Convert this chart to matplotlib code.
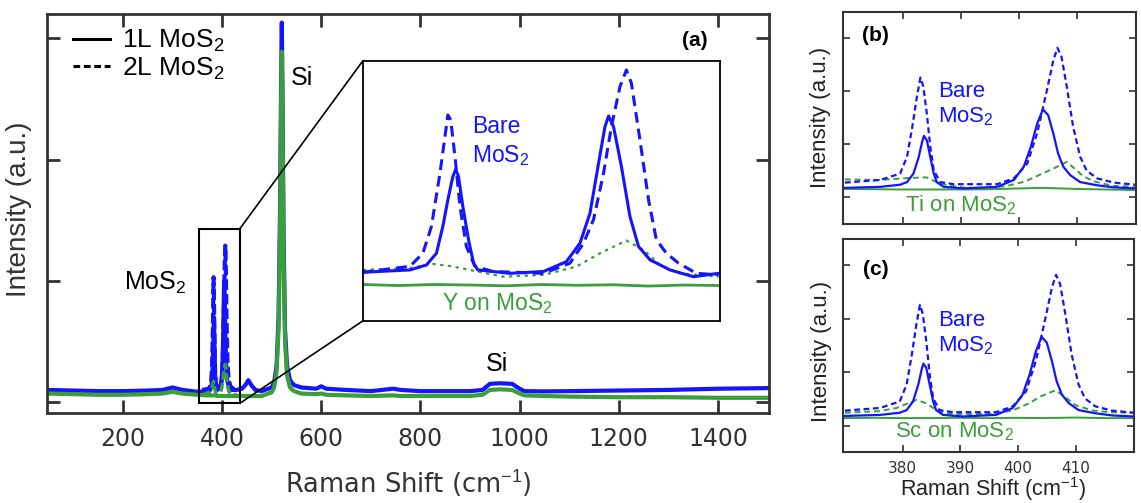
import numpy as np
import matplotlib
matplotlib.use("Agg")
import matplotlib.pyplot as plt
from matplotlib.lines import Line2D
from matplotlib.patches import Rectangle, ConnectionPatch

plt.rcParams['mathtext.fontset'] = 'custom'
plt.rcParams['mathtext.rm'] = 'Liberation Sans'
plt.rcParams['mathtext.default'] = 'rm'

BLUE = '#1414ff'
GREEN = '#3a9e3a'
DARK = '#333333'
ARIAL = 'Liberation Sans'

# ---- panel (a): full spectrum ----
main_x = [50, 100, 150, 200, 250, 280, 300, 320, 350, 370, 376, 379, 381, 382.5, 383.6,
          384.7, 385.8, 387, 390, 396, 399, 401, 402.5, 404.1, 405.5, 406.7, 408.5, 410.5,
          414, 420, 430, 440, 447, 453, 459, 467, 480, 500, 505, 510, 514, 517, 519, 520.5,
          522, 524, 527, 531, 537, 545, 560, 590, 600, 610, 650, 700, 745, 760, 800, 850,
          900, 925, 940, 960, 985, 1000, 1010, 1050, 1100, 1200, 1300, 1400, 1500]
main_bare_1l = [0.10, 0.095, 0.09, 0.09, 0.095, 0.10, 0.12, 0.10, 0.085, 0.09, 0.10, 0.14, 0.28,
                0.52, 0.70, 0.50, 0.25, 0.14, 0.10, 0.11, 0.17, 0.32, 0.58, 1.00, 0.82, 0.55,
                0.30, 0.18, 0.12, 0.10, 0.10, 0.11, 0.14, 0.18, 0.14, 0.10, 0.09, 0.12, 0.16,
                0.30, 0.70, 1.60, 2.60, 3.13, 2.50, 1.40, 0.60, 0.30, 0.18, 0.14, 0.12, 0.11,
                0.13, 0.11, 0.10, 0.09, 0.11, 0.10, 0.09, 0.09, 0.09, 0.10, 0.15, 0.155, 0.15,
                0.11, 0.09, 0.088, 0.09, 0.095, 0.10, 0.11, 0.115]
main_y_1l = [0.07, 0.065, 0.06, 0.06, 0.065, 0.07, 0.085, 0.07, 0.06, 0.055, 0.055, 0.055, 0.055,
             0.055, 0.055, 0.055, 0.055, 0.055, 0.05, 0.05, 0.05, 0.05, 0.05, 0.05, 0.05, 0.05,
             0.05, 0.05, 0.05, 0.05, 0.05, 0.05, 0.05, 0.05, 0.05, 0.05, 0.05, 0.08, 0.12,
             0.25, 0.60, 1.40, 2.40, 2.89, 2.30, 1.20, 0.50, 0.22, 0.12, 0.09, 0.07, 0.065,
             0.07, 0.06, 0.055, 0.05, 0.055, 0.05, 0.05, 0.05, 0.05, 0.06, 0.10, 0.105, 0.10,
             0.07, 0.055, 0.05, 0.045, 0.04, 0.04, 0.035, 0.035]

main2_x = [360, 374, 378, 380, 381.5, 383, 384.2, 385.3, 387, 390, 396, 399, 401.5, 403.5,
           405.5, 406.6, 407.6, 409.2, 411, 413.5, 417, 425, 430]
main_bare_2l = [0.10, 0.11, 0.16, 0.30, 0.60, 1.03, 0.70, 0.35, 0.16, 0.12, 0.12, 0.18, 0.35,
                0.70, 1.15, 1.29, 1.10, 0.65, 0.32, 0.18, 0.13, 0.10, 0.10]
main_y_2l = [0.06, 0.08, 0.10, 0.12, 0.15, 0.17, 0.15, 0.11, 0.08, 0.07, 0.08, 0.11, 0.17,
             0.25, 0.30, 0.31, 0.28, 0.20, 0.14, 0.09, 0.07, 0.06, 0.06]

zoom_box = (353, 436, -0.01, 1.43)

# ---- inset of (a): MoS2 region, Y on MoS2 ----
ins_x1 = [370.0, 376.6, 378.9, 380.3, 381.2, 381.9, 382.6, 383.0, 383.4, 384.0, 384.8, 385.5,
          386.1, 390.6, 395.3, 398.5, 400.4, 401.8, 403.0, 403.9, 404.4, 405.1, 406.2, 407.4,
          408.6, 410.2, 413.0, 416.3, 419.8]
ins_bare_1l = [0.187, 0.196, 0.215, 0.26, 0.363, 0.465, 0.555, 0.583, 0.555, 0.44, 0.312, 0.222,
               0.196, 0.183, 0.19, 0.228, 0.299, 0.414, 0.606, 0.747, 0.788, 0.747, 0.594,
               0.401, 0.286, 0.235, 0.196, 0.17, 0.183]
ins_x2 = [370.0, 376.6, 378.4, 379.6, 380.8, 381.5, 381.9, 382.3, 382.9, 383.6, 384.5, 385.7,
          388.2, 395.3, 399.0, 400.9, 402.3, 403.7, 404.8, 406.0, 406.9, 407.6, 408.8, 410.0,
          411.1, 412.5, 414.2, 416.7, 419.8]
ins_bare_2l = [0.187, 0.21, 0.26, 0.363, 0.568, 0.709, 0.792, 0.773, 0.632, 0.44, 0.286, 0.21,
               0.19, 0.183, 0.222, 0.299, 0.39, 0.568, 0.747, 0.901, 0.965, 0.914, 0.696,
               0.465, 0.312, 0.26, 0.222, 0.183, 0.177]
ins_xg = [370.0, 376.6, 379.8, 382.2, 385.0, 389.6, 395.3, 399.9, 403.2, 406.9, 409.3, 411.6,
          414.4, 419.8]
ins_y_2l = [0.196, 0.203, 0.219, 0.211, 0.196, 0.17, 0.177, 0.209, 0.26, 0.309, 0.273, 0.215,
            0.183, 0.17]
ins_xs = [370, 375, 380, 385, 390, 395, 400, 405, 410, 415, 420]
ins_y_1l = [0.14, 0.136, 0.14, 0.138, 0.135, 0.14, 0.137, 0.139, 0.134, 0.138, 0.136]

# ---- panels (b), (c): bare MoS2 (same in both) ----
bc_x1 = [370.0, 376.1, 379.5, 380.7, 381.8, 382.7, 383.3, 383.6, 384.1, 384.7, 385.3, 385.8,
         387.0, 390.4, 396.2, 399.1, 400.8, 402.0, 403.1, 404.1, 405.0, 405.9, 406.7, 407.6,
         408.8, 410.5, 413.4, 416.3, 420.0]
bare_1l = [0.18, 0.20, 0.24, 0.29, 0.45, 0.76, 1.05, 1.16, 1.08, 0.76, 0.45, 0.29, 0.20, 0.17,
           0.20, 0.33, 0.58, 0.95, 1.39, 1.66, 1.55, 1.20, 0.83, 0.58, 0.42, 0.29, 0.23, 0.19,
           0.17]
bc_x2 = [370.0, 376.1, 379.5, 380.7, 381.6, 382.4, 383.0, 383.5, 384.1, 384.7, 385.3, 386.4,
         388.7, 396.2, 399.1, 401.4, 403.1, 404.8, 405.9, 406.6, 407.3, 408.2, 409.3, 410.5,
         411.6, 413.4, 416.3, 420.0]
bare_2l = [0.28, 0.33, 0.45, 0.77, 1.33, 1.90, 2.26, 2.09, 1.58, 0.95, 0.51, 0.29, 0.25, 0.25,
           0.36, 0.64, 1.21, 2.03, 2.59, 2.82, 2.65, 2.09, 1.33, 0.77, 0.51, 0.36, 0.28, 0.24]

bc_xg = [370, 376, 380, 384, 386, 388, 391, 395, 398, 401, 404, 406, 408.2, 409.5, 411, 413,
         416, 420]
ti_2l = [0.34, 0.33, 0.36, 0.38, 0.28, 0.22, 0.18, 0.18, 0.22, 0.30, 0.45, 0.55, 0.67, 0.55,
         0.40, 0.30, 0.22, 0.20]
bc_xs = [370, 375, 380, 385, 390, 395, 400, 404, 410, 415, 420]
ti_1l = [0.16, 0.155, 0.15, 0.15, 0.15, 0.155, 0.17, 0.18, 0.16, 0.15, 0.14]

bc_xg2 = [370, 376, 379, 381, 382.4, 384, 386, 388, 391, 395, 399, 402, 404, 406.5, 408,
          410, 413, 416, 420]
sc_2l = [0.24, 0.27, 0.33, 0.42, 0.48, 0.42, 0.28, 0.22, 0.21, 0.22, 0.28, 0.42, 0.55, 0.66,
         0.55, 0.38, 0.28, 0.25, 0.24]
sc_1l = [0.14, 0.145, 0.14, 0.14, 0.145, 0.14, 0.145, 0.14, 0.15, 0.14, 0.14]

fig = plt.figure(figsize=(11.41, 5.03), dpi=100)

# ---------------- panel (a) ----------------
ax = fig.add_axes([0.0416, 0.179, 0.632, 0.793])
ax.plot(main_x, main_bare_1l, color=BLUE, lw=3)
ax.plot(main2_x, main_bare_2l, color=BLUE, lw=3, dashes=(2.5, 1))
ax.plot(main2_x, main_y_2l, color=GREEN, lw=2.5, dashes=(2.5, 1))
ax.plot(main_x, main_y_1l, color=GREEN, lw=3)
ax.set_xlim(48, 1502)
ax.set_ylim(-0.09, 3.2)
ax.set_xticks([200, 400, 600, 800, 1000, 1200, 1400])
ax.set_yticks([0, 1, 2, 3])
ax.set_yticklabels([])
ax.tick_params(direction='in', length=9.5, width=2, color=DARK, labelsize=17,
               labelcolor=DARK, top=True, right=True, pad=10)
for s in ax.spines.values():
    s.set_linewidth(2)
    s.set_color(DARK)
ax.set_xlabel('Raman Shift (cm$^{-1}$)', fontsize=18.5, color=DARK)
ax.xaxis.set_label_coords(0.5, -0.14)
ax.set_ylabel('Intensity (a.u.)', fontsize=20, color=DARK, family=ARIAL)
ax.yaxis.set_label_coords(-0.022, 0.51)

handles = [Line2D([], [], color='black', lw=2.2),
           Line2D([], [], color='black', lw=2.2, dashes=(2.2, 1.2))]
ax.legend(handles, ['1L MoS$_2$', '2L MoS$_2$'], loc='upper left',
          bbox_to_anchor=(0.035, 0.965), frameon=False, prop={'family': ARIAL, 'size': 19},
          handlelength=1.4, handletextpad=0.45, labelspacing=0.05, borderpad=0,
          borderaxespad=0)

ax.text(561, 2.67, 'Si', fontsize=18, family=ARIAL, ha='center', va='center')
ax.text(266, 0.98, 'MoS$_2$', fontsize=18, family=ARIAL, ha='center', va='center')
ax.text(954, 0.31, 'Si', fontsize=18, family=ARIAL, ha='center', va='center')
ax.text(1353, 2.98, '(a)', fontsize=15, family=ARIAL, weight='bold', ha='center', va='center')

x0, x1, y0, y1 = zoom_box
ax.add_patch(Rectangle((x0, y0), x1 - x0, y1 - y0, fill=False, lw=1.5, ec='black', zorder=5))

# inset
axi = fig.add_axes([0.318, 0.362, 0.313, 0.517])
axi.plot(ins_xs, ins_y_1l, color=GREEN, lw=2)
axi.plot(ins_xg, ins_y_2l, color=GREEN, lw=1.6, dashes=(1.5, 2))
axi.plot(ins_x1, ins_bare_1l, color=BLUE, lw=2.2)
axi.plot(ins_x2, ins_bare_2l, color=BLUE, lw=2.2, dashes=(3.5, 2))
axi.set_xlim(370, 420)
axi.set_ylim(0, 1)
axi.set_xticks([])
axi.set_yticks([])
for s in axi.spines.values():
    s.set_linewidth(1.3)
axi.text(0.305, 0.69, 'Bare\nMoS$_2$', transform=axi.transAxes, color=BLUE, fontsize=16.5,
         family=ARIAL, ha='left', va='center', linespacing=1.25)
axi.text(0.221, 0.065, 'Y on MoS$_2$', transform=axi.transAxes, color=GREEN, fontsize=16.5,
         family=ARIAL, ha='left', va='center')

for corner_main, corner_ins in [((x1, y1), (0, 1)), ((x1, y0), (0, 0))]:
    cp = ConnectionPatch(xyA=corner_main, coordsA=ax.transData, xyB=corner_ins,
                         coordsB=axi.transAxes, lw=1.2, color='black')
    fig.add_artist(cp)


# ---------------- panels (b), (c) ----------------
def side_panel(rect, green_x, green_2l, green_1l, label, metal, label_xy, metal_xy, bare_xy):
    a = fig.add_axes(rect)
    a.plot(bc_xs, green_1l, color=GREEN, lw=1.4)
    a.plot(green_x, green_2l, color=GREEN, lw=1.4, dashes=(3, 2))
    a.plot(bc_x1, bare_1l, color=BLUE, lw=1.6)
    a.plot(bc_x2, bare_2l, color=BLUE, lw=1.6, dashes=(2.6, 1.6))
    a.set_xlim(369.7, 420.1)
    a.set_ylim(-0.5, 3.5)
    a.set_xticks([380, 390, 400, 410])
    a.set_yticks([0, 1, 2, 3])
    a.set_yticklabels([])
    a.tick_params(direction='in', length=5, width=1.2, color=DARK, labelsize=11,
                  labelcolor=DARK, top=True, right=True, pad=6)
    for s in a.spines.values():
        s.set_linewidth(1.5)
        s.set_color(DARK)
    a.set_ylabel('Intensity (a.u.)', fontsize=16, family=ARIAL, color='#222222')
    a.text(label_xy[0], label_xy[1], label, transform=a.transAxes, fontsize=15,
           family=ARIAL, weight='bold', ha='left', va='center')
    a.text(bare_xy[0], bare_xy[1], 'Bare\nMoS$_2$', transform=a.transAxes, color=BLUE,
           fontsize=16, family=ARIAL, ha='left', va='center', linespacing=1.2)
    a.text(metal_xy[0], metal_xy[1], metal + ' on MoS$_2$', transform=a.transAxes,
           color=GREEN, fontsize=16, family=ARIAL, ha='left', va='center')
    return a


axb = side_panel([0.739, 0.5547, 0.2565, 0.422], bc_xg, ti_2l, ti_1l, '(b)', 'Ti',
                 (0.063, 0.886), (0.211, 0.09), (0.324, 0.563))
axb.set_xticklabels([])
axb.yaxis.set_label_coords(-0.04, 0.5)

axc = side_panel([0.739, 0.1008, 0.2548, 0.425], bc_xg2, sc_2l, sc_1l, '(c)', 'Sc',
                 (0.069, 0.853), (0.178, 0.095), (0.327, 0.558))
axc.yaxis.set_label_coords(-0.04, 0.47)
axc.set_xlabel('Raman Shift (cm$^{-1}$)', fontsize=15.5, family=ARIAL, color='#222222')
axc.xaxis.set_label_coords(0.515, -0.105)

fig.savefig('out.png', dpi=100)
